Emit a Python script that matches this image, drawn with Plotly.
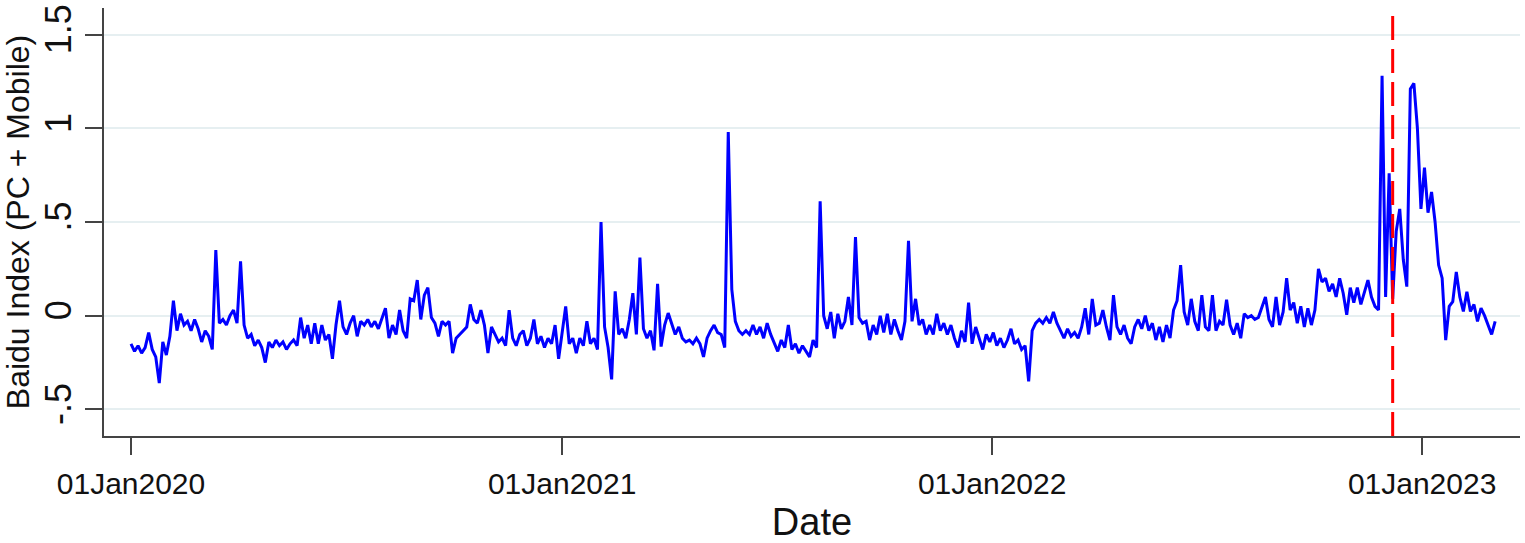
import pandas as pd
import plotly.graph_objects as go

# Baidu Index (PC + Mobile), one value every 3 days from 01Jan2020
start_date = "2020-01-01"
step_days = 3
baidu_index = [
    -0.15, -0.19, -0.16, -0.20, -0.17, -0.09, -0.18, -0.22, -0.36, -0.14,
    -0.21, -0.11, 0.08, -0.08, 0.01, -0.05, -0.03, -0.08, -0.02, -0.07,
    -0.14, -0.08, -0.11, -0.18, 0.35, -0.04, -0.02, -0.05, 0.00, 0.03,
    -0.04, 0.29, -0.05, -0.12, -0.10, -0.16, -0.13, -0.17, -0.25, -0.14,
    -0.17, -0.13, -0.16, -0.14, -0.18, -0.15, -0.13, -0.16, -0.01, -0.12,
    -0.05, -0.15, -0.04, -0.15, -0.05, -0.13, -0.10, -0.23, -0.05, 0.08,
    -0.06, -0.10, -0.04, 0.00, -0.11, -0.03, -0.05, -0.02, -0.06, -0.03,
    -0.07, -0.02, 0.04, -0.12, -0.05, -0.10, 0.03, -0.08, -0.12, 0.09,
    0.08, 0.19, -0.02, 0.11, 0.15, -0.01, -0.04, -0.11, -0.03, -0.05,
    -0.03, -0.20, -0.12, -0.10, -0.08, -0.06, 0.06, -0.02, -0.04, 0.03,
    -0.05, -0.20, -0.06, -0.10, -0.14, -0.12, -0.16, 0.03, -0.12, -0.16,
    -0.10, -0.08, -0.16, -0.12, -0.02, -0.15, -0.11, -0.17, -0.12, -0.15,
    -0.05, -0.23, -0.10, 0.05, -0.15, -0.12, -0.20, -0.12, -0.16, -0.03,
    -0.15, -0.12, -0.18, 0.50, -0.06, -0.17, -0.34, 0.13, -0.10, -0.07,
    -0.12, -0.02, 0.12, -0.10, 0.31, -0.07, -0.12, -0.08, -0.185, 0.17,
    -0.165, -0.05, 0.014, -0.05, -0.10, -0.06, -0.12, -0.14, -0.13, -0.15,
    -0.12, -0.15, -0.22, -0.12, -0.08, -0.05, -0.09, -0.10, -0.17, 0.98,
    0.14, -0.03, -0.08, -0.10, -0.08, -0.10, -0.05, -0.10, -0.06, -0.12,
    -0.04, -0.10, -0.15, -0.19, -0.13, -0.17, -0.05, -0.18, -0.15, -0.20,
    -0.16, -0.19, -0.22, -0.13, -0.17, 0.61, 0.00, -0.07, 0.02, -0.12,
    0.01, -0.07, -0.03, 0.10, -0.05, 0.42, -0.01, -0.04, -0.03, -0.13,
    -0.05, -0.10, 0.00, -0.09, 0.01, -0.10, -0.02, -0.08, -0.13, -0.03,
    0.40, -0.03, 0.09, -0.05, -0.02, -0.10, -0.05, -0.10, 0.01, -0.08,
    -0.04, -0.10, -0.05, -0.12, -0.17, -0.08, -0.14, 0.07, -0.15, -0.06,
    -0.12, -0.18, -0.10, -0.14, -0.09, -0.16, -0.12, -0.17, -0.13, -0.07,
    -0.15, -0.13, -0.18, -0.16, -0.35, -0.08, -0.04, -0.02, -0.04, -0.01,
    -0.04, 0.02, -0.04, -0.08, -0.12, -0.07, -0.11, -0.09, -0.12, -0.06,
    0.04, -0.10, 0.09, -0.05, -0.04, 0.03, -0.06, -0.13, 0.11, -0.06,
    -0.10, -0.05, -0.12, -0.15, -0.06, -0.02, -0.07, 0.00, -0.08, -0.04,
    -0.13, -0.06, -0.14, -0.05, -0.12, 0.03, 0.08, 0.27, 0.02, -0.05,
    0.09, -0.03, -0.08, 0.11, -0.06, -0.08, 0.11, -0.08, -0.03, -0.05,
    0.085, -0.05, -0.10, -0.04, -0.12, 0.01, -0.01, 0.00, -0.02, -0.01,
    0.05, 0.10, -0.02, -0.06, 0.10, -0.05, 0.02, 0.20, 0.03, 0.07,
    -0.04, 0.05, -0.06, 0.04, -0.05, 0.03, 0.25, 0.18, 0.20, 0.13,
    0.17, 0.10, 0.20, 0.12, 0.005, 0.15, 0.07, 0.15, 0.06, 0.12,
    0.19, 0.10, 0.05, 0.03, 1.28, 0.10, 0.76, 0.09, 0.45, 0.57,
    0.30, 0.155, 1.21, 1.24, 1.00, 0.57, 0.79, 0.55, 0.66, 0.50,
    0.27, 0.20, -0.13, 0.05, 0.075, 0.233, 0.10, 0.023, 0.128, 0.023,
    0.06, -0.03, 0.04, 0.00, -0.05, -0.10, -0.03,
]

policy_date = "2022-12-07"
tick_dates = ["2020-01-01", "2021-01-01", "2022-01-01", "2023-01-01"]
tick_labels = ["01Jan2020", "01Jan2021", "01Jan2022", "01Jan2023"]
y_ticks = [-0.5, 0, 0.5, 1, 1.5]
y_tick_labels = ["-.5", "0", ".5", "1", "1.5"]

dates = pd.date_range(start_date, periods=len(baidu_index), freq=f"{step_days}D")

fig = go.Figure()
fig.add_trace(go.Scatter(
    x=dates, y=baidu_index, mode="lines",
    line=dict(color="#0000ff", width=3),
    showlegend=False,
))
fig.add_shape(type="line", xref="x", yref="paper",
              x0=policy_date, x1=policy_date, y0=0, y1=1,
              line=dict(color="#ff0000", width=3, dash="24px,9px"))

font_family = "Liberation Sans, Arial, sans-serif"
axis_color = "#444444"

fig.update_layout(
    width=1525, height=543,
    margin=dict(l=104, r=5, t=5, b=103),
    paper_bgcolor="white", plot_bgcolor="white",
    font=dict(family=font_family, color="#111111"),
    xaxis=dict(
        range=["2019-12-09 02:00", "2023-03-25 02:00"],
        tickmode="array", tickvals=tick_dates, ticktext=tick_labels,
        tickfont=dict(size=30, family=font_family, color="#111111"),
        ticks="outside", ticklen=17, tickwidth=2, tickcolor=axis_color,
        ticklabelstandoff=3,
        showline=True, linecolor=axis_color, linewidth=2,
        showgrid=False, zeroline=False,
        title=dict(text="Date", font=dict(size=38, family=font_family, color="#111111"), standoff=11),
    ),
    yaxis=dict(
        range=[-0.642, 1.642],
        tickmode="array", tickvals=y_ticks, ticktext=y_tick_labels,
        tickangle=-90,
        tickfont=dict(size=36, family=font_family, color="#111111"),
        ticks="outside", ticklen=17, tickwidth=2, tickcolor=axis_color,
        showline=True, linecolor=axis_color, linewidth=2,
        showgrid=True, gridcolor="#e6eff1", gridwidth=2,
        zeroline=False,
        title=dict(text="Baidu Index (PC + Mobile)", font=dict(size=32, family=font_family, color="#111111"), standoff=4),
    ),
)

fig.write_html("out.html", config={"displayModeBar": False},
               post_script="document.body.style.margin='0px';")
